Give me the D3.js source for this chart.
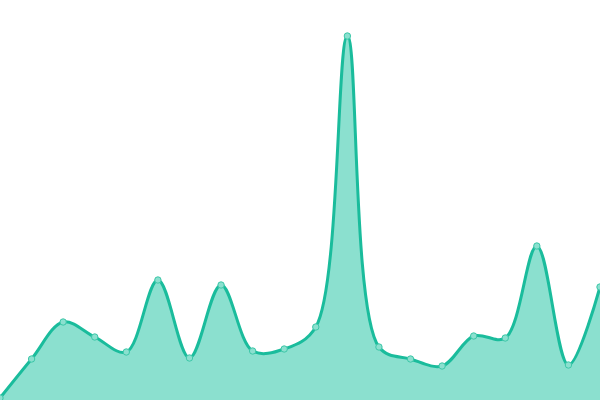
<!DOCTYPE html>
<html><head><meta charset="utf-8">
<script src="https://cdn.jsdelivr.net/npm/d3@7"></script>
<style>html,body{margin:0;padding:0;background:#fff;}svg{display:block;}</style>
</head><body>
<svg id="chart" width="600" height="400"></svg>
<script>
const categories = d3.range(1, 21).map(i => "P" + i);
const values = [2, 41, 78, 63, 48, 120, 42, 115, 49, 51, 73, 364, 53, 41, 34, 64, 62, 154, 35, 113];

const W = 600, H = 400;
const svg = d3.select("#chart");
const x = d3.scalePoint().domain(categories).range([0, W]);
const y = d3.scaleLinear().domain([0, 400]).range([H, 0]);
const data = categories.map((c, i) => ({c, v: values[i]}));

const curve = d3.curveCatmullRom.alpha(0.5);
const area = d3.area().x(d => x(d.c)).y0(y(0)).y1(d => y(d.v)).curve(curve);
const line = d3.line().x(d => x(d.c)).y(d => y(d.v)).curve(curve);

svg.append("path").datum(data).attr("d", area).attr("fill", "#8be0cf");
svg.append("path").datum(data).attr("d", line).attr("fill", "none")
  .attr("stroke", "#1abc9c").attr("stroke-width", 3);
svg.selectAll("circle").data(data).join("circle")
  .attr("cx", d => x(d.c)).attr("cy", d => y(d.v)).attr("r", 3.2)
  .attr("fill", "#8be0cf").attr("stroke", "#3cc7a8").attr("stroke-width", 1);
</script>
</body></html>
